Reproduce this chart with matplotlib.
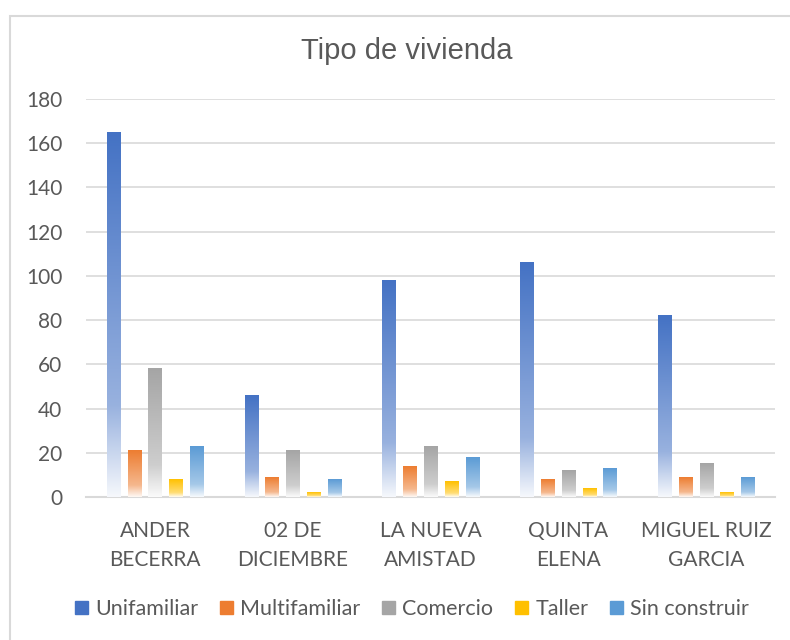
import numpy as np
import matplotlib
matplotlib.use('Agg')
import matplotlib.pyplot as plt
from matplotlib.patches import Rectangle
from matplotlib.colors import to_rgb

categories = ['ANDER\nBECERRA', '02 DE\nDICIEMBRE', 'LA NUEVA\nAMISTAD', 'QUINTA\nELENA', 'MIGUEL RUIZ\nGARCIA']
series = ['Unifamiliar', 'Multifamiliar', 'Comercio', 'Taller', 'Sin construir']
unifamiliar = [165, 46, 98, 106, 82]
multifamiliar = [21, 9, 14, 8, 9]
comercio = [58, 21, 23, 12, 15]
taller = [8, 2, 7, 4, 2]
sin_construir = [23, 8, 18, 13, 9]
colors = ['#4472C4', '#ED7D31', '#A5A5A5', '#FFC000', '#5B9BD5']

values = [unifamiliar, multifamiliar, comercio, taller, sin_construir]

plt.rcParams['font.family'] = ['Lato', 'DejaVu Sans']


def gradient_img(color):
    # solid at top, lighter towards the bottom, almost white at the base
    c = np.array(to_rgb(color))
    t = np.linspace(0, 1, 200)[:, None]  # 0 = top, 1 = bottom
    mix = np.where(t < 0.75, t / 0.75 * 0.45, 0.45 + (t - 0.75) / 0.25 * 0.5)
    rgb = c * (1 - mix) + np.ones(3) * mix
    return rgb[:, None, :] * np.ones((1, 2, 1))


fig = plt.figure(figsize=(7.9, 6.4), dpi=100)
fig.patches.append(Rectangle((10 / 790, -0.01), 1.0, 1 - 16 / 640 + 0.01,
                             transform=fig.transFigure, fill=False,
                             edgecolor='#D9D9D9', lw=1.5))
ax = fig.add_axes([86 / 790, 143 / 640, (775 - 86) / 790, (497 - 99) / 640])

x = np.arange(len(categories))
pitch = 0.151
width = 0.095
for i, (name, vals) in enumerate(zip(series, values)):
    offs = (i - 2) * pitch
    bars = ax.bar(x + offs, vals, width, color='none', label=name, zorder=3)
    img = gradient_img(colors[i])
    for b in bars:
        x0, w, h = b.get_x(), b.get_width(), b.get_height()
        ax.imshow(img, extent=[x0, x0 + w, 0, h], aspect='auto', zorder=3,
                  interpolation='bilinear')

ax.set_xlim(-0.5, len(categories) - 0.5)
ax.set_ylim(0, 180)
ax.set_yticks(range(0, 181, 20))
ax.set_xticks(x)
ax.set_xticklabels(categories, fontsize=15, color='#595959', linespacing=1.6)
ax.tick_params(axis='y', labelsize=15, colors='#595959', length=0, pad=17)
ax.tick_params(axis='x', length=0, pad=17)
ax.grid(axis='y', color='#D9D9D9', lw=1.2, zorder=0)
for s in ['top', 'right', 'left']:
    ax.spines[s].set_visible(False)
ax.spines['bottom'].set_color('#D9D9D9')
ax.spines['bottom'].set_linewidth(1.5)

fig.text(407 / 790, 1 - 51 / 640, 'Tipo de vivienda', ha='center', va='center',
         fontsize=21, color='#595959', family=['Liberation Sans', 'DejaVu Sans'])

handles = [Rectangle((0, 0), 1, 1, color=c) for c in colors]
fig.legend(handles, series, loc='center', bbox_to_anchor=(412 / 790, 1 - 609 / 640),
           ncol=5, frameon=False, fontsize=15.5, handlelength=0.6, handleheight=0.6,
           handletextpad=0.35, columnspacing=1.0, labelcolor='#595959')

fig.savefig('out.png', dpi=100, facecolor='white')
